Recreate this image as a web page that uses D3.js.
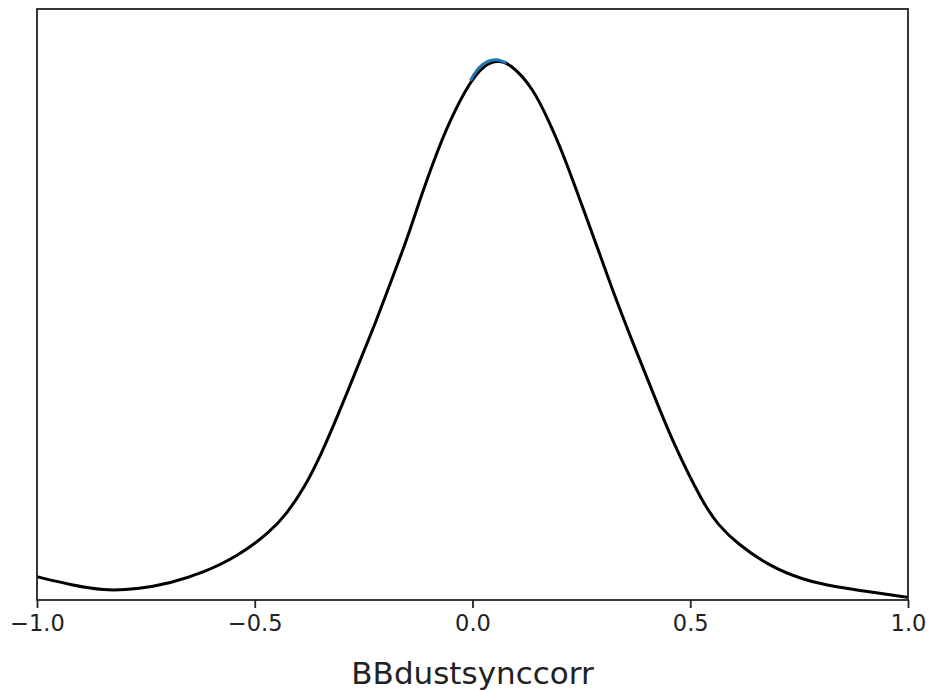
<!DOCTYPE html>
<html>
<head>
<meta charset="utf-8">
<script src="https://cdn.jsdelivr.net/npm/d3@7"></script>
<style>
  body { margin: 0; background: #fff; }
  text { font-family: "DejaVu Sans", sans-serif; fill: #222; }
</style>
</head>
<body>
<div id="chart"></div>
<script>
// 1D marginal density of BBdustsynccorr (normalised so the peak is ~1)
var densX = [-1.0, -0.923, -0.847, -0.770, -0.694, -0.617, -0.541, -0.464, -0.426, -0.388,
             -0.346, -0.304, -0.258, -0.220, -0.186, -0.151, -0.121, -0.090, -0.052, -0.006,
             0.025, 0.055, 0.086, 0.140, 0.178, 0.205, 0.247, 0.289, 0.327, 0.369,
             0.415, 0.461, 0.530, 0.565, 0.607, 0.683, 0.760, 0.836, 0.913, 1.0];
var densY = [0.043, 0.028, 0.017, 0.020, 0.031, 0.051, 0.080, 0.126, 0.161, 0.205,
             0.272, 0.352, 0.444, 0.519, 0.593, 0.667, 0.741, 0.812, 0.889, 0.960,
             0.990, 1.000, 0.995, 0.948, 0.882, 0.833, 0.741, 0.648, 0.562, 0.475,
             0.383, 0.290, 0.178, 0.138, 0.105, 0.062, 0.037, 0.024, 0.015, 0.005];

// short blue segment visible at the top of the peak
var peakX = [-0.005, 0.015, 0.035, 0.055, 0.078];
var peakY = [0.962, 0.986, 0.998, 1.001, 0.995];

var xTicks = [-1.0, -0.5, 0.0, 0.5, 1.0];
var xLabel = "BBdustsynccorr";

var margin = {top: 9, right: 22, bottom: 90, left: 37},
    width = 930 - margin.left - margin.right,
    height = 690 - margin.top - margin.bottom;

var svg = d3.select("#chart")
    .append("svg")
    .attr("width", 930)
    .attr("height", 690);

var g = svg.append("g")
    .attr("transform", "translate(" + margin.left + "," + margin.top + ")");

var x = d3.scaleLinear().domain([-1, 1]).range([0, width]);
var y = d3.scaleLinear().domain([0, 1.095]).range([height, 0]);

g.append("clipPath").attr("id", "clip")
  .append("rect").attr("width", width).attr("height", height);

var densLine = d3.line()
    .x(d => x(d[0]))
    .y(d => y(d[1]))
    .curve(d3.curveBasis);

var peakLine = d3.line()
    .x(d => x(d[0]))
    .y(d => y(d[1]))
    .curve(d3.curveCatmullRom);

var dens = densX.map((v, i) => [v, densY[i]]);
var peak = peakX.map((v, i) => [v, peakY[i]]);

g.append("path")
    .datum(dens)
    .attr("clip-path", "url(#clip)")
    .attr("d", densLine)
    .attr("fill", "none")
    .attr("stroke", "#000")
    .attr("stroke-width", 3);

g.append("path")
    .datum(peak)
    .attr("d", peakLine)
    .attr("fill", "none")
    .attr("stroke", "#1f77b4")
    .attr("stroke-width", 3);

// frame
g.append("rect")
    .attr("width", width)
    .attr("height", height)
    .attr("fill", "none")
    .attr("stroke", "#222")
    .attr("stroke-width", 1.8);

// x axis
var xAxis = g.append("g")
    .attr("transform", "translate(0," + height + ")")
    .call(d3.axisBottom(x)
        .tickValues(xTicks)
        .tickSize(8)
        .tickPadding(7)
        .tickFormat(d => d3.format(".1f")(d).replace("-", "\u2212")));

xAxis.select(".domain").remove();
xAxis.selectAll(".tick line").attr("stroke", "#222").attr("stroke-width", 1.8);
xAxis.selectAll(".tick text")
    .attr("fill", "#222")
    .style("font-size", "22.5px")
    .attr("dy", "0.72em");

g.append("text")
    .attr("x", width / 2)
    .attr("y", height + 84)
    .attr("text-anchor", "middle")
    .style("font-size", "31px")
    .text(xLabel);
</script>
</body>
</html>
